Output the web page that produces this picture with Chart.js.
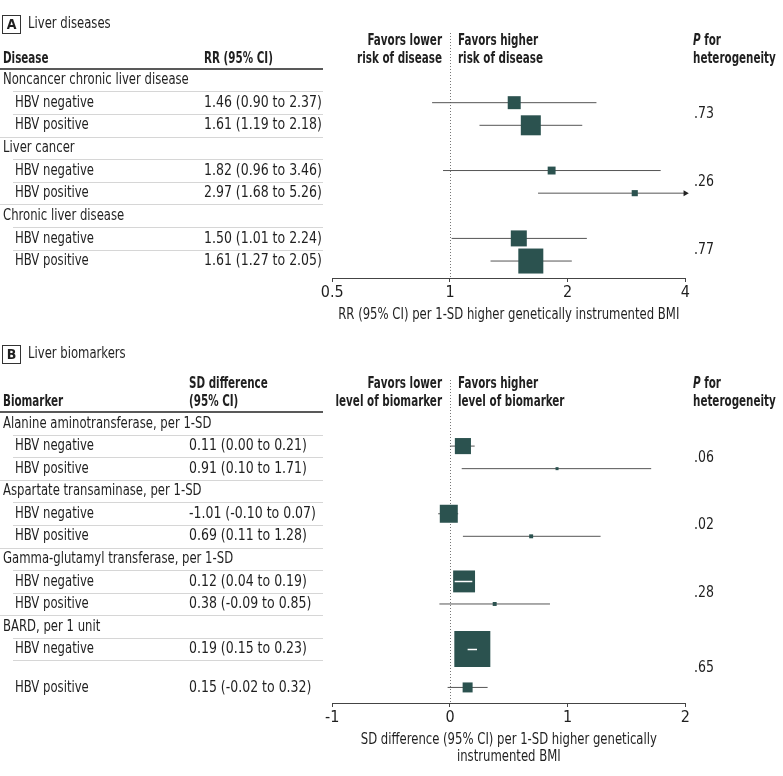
<!DOCTYPE html>
<html>
<head>
<meta charset="utf-8">
<script src="https://cdn.jsdelivr.net/npm/chart.js@4.4.1/dist/chart.umd.min.js"></script>
<style>
  html, body { margin: 0; padding: 0; background: #fff; }
  #wrap { position: relative; width: 783px; height: 776px; }
  canvas { position: absolute; left: 0; }
</style>
</head>
<body>
<div id="wrap">
  <canvas id="chart-a" width="783" height="330" style="top:0"></canvas>
  <canvas id="chart-b" width="783" height="446" style="top:330px"></canvas>
</div>
<script>
// Subgroups, shared by both panels
const subgroupNames = ["HBV negative", "HBV positive"];

// Panel A: liver diseases (RR per 1-SD higher BMI)
const diseaseNames = ["Noncancer chronic liver disease", "Liver cancer", "Chronic liver disease"];
const rrEst = [1.46, 1.61, 1.82, 2.97, 1.50, 1.61];
const rrLow = [0.90, 1.19, 0.96, 1.68, 1.01, 1.27];
const rrHigh = [2.37, 2.18, 3.46, 5.26, 2.24, 2.05];
const rrWeight = [27, 64, 10, 6, 41, 100];
const rrText = ["1.46 (0.90 to 2.37)", "1.61 (1.19 to 2.18)", "1.82 (0.96 to 3.46)",
  "2.97 (1.68 to 5.26)", "1.50 (1.01 to 2.24)", "1.61 (1.27 to 2.05)"];
const rrP = [".73", ".26", ".77"];
const rrTicks = [0.5, 1, 2, 4];

// Panel B: liver biomarkers (SD difference per 1-SD higher BMI)
const biomarkerNames = ["Alanine aminotransferase, per 1-SD", "Aspartate transaminase, per 1-SD",
  "Gamma-glutamyl transferase, per 1-SD", "BARD, per 1 unit"];
const sdEst = [0.11, 0.91, -0.01, 0.69, 0.12, 0.38, 0.19, 0.15];
const sdLow = [0.00, 0.10, -0.10, 0.11, 0.04, -0.09, 0.15, -0.02];
const sdHigh = [0.21, 1.71, 0.07, 1.28, 0.19, 0.85, 0.23, 0.32];
const sdWeight = [20, 0.7, 25, 1.2, 37, 1.2, 100, 7.7];
const sdText = ["0.11 (0.00 to 0.21)", "0.91 (0.10 to 1.71)", "-1.01 (-0.10 to 0.07)",
  "0.69 (0.11 to 1.28)", "0.12 (0.04 to 0.19)", "0.38 (-0.09 to 0.85)",
  "0.19 (0.15 to 0.23)", "0.15 (-0.02 to 0.32)"];
const sdP = [".06", ".02", ".28", ".65"];
const sdTicks = [-1, 0, 1, 2];

const FONT = '"DejaVu Sans Condensed", "DejaVu Sans", sans-serif';
const INK = "#1f1f1f";
const BOX = "#2b524f";
const CI = "#555555";

// the reference uses a condensed face, so squeeze text horizontally
function text(ctx, s, x, y, o = {}) {
  ctx.font = `${o.italic ? "italic " : ""}${o.bold ? "bold " : ""}${o.size || 16}px ${FONT}`;
  ctx.fillStyle = o.color || INK;
  ctx.textAlign = o.align || "left";
  ctx.textBaseline = "middle";
  const sq = o.sq || (o.bold ? 0.72 : o.num ? 0.87 : 0.81);
  const w = ctx.measureText(s).width * sq;
  ctx.fillText(s, x, y, w);
  return w;
}

function hline(ctx, x0, x1, y, color, w) {
  ctx.beginPath();
  ctx.strokeStyle = color;
  ctx.lineWidth = w;
  ctx.moveTo(x0, y);
  ctx.lineTo(x1, y);
  ctx.stroke();
}

const tablePlugin = {
  id: "table",
  beforeDatasetsDraw(chart, args, opts) {
    const ctx = chart.ctx;
    const x = chart.scales.x.getPixelForValue(opts.panel.ref);
    const a = chart.chartArea;
    ctx.save();
    ctx.strokeStyle = "#777";
    ctx.lineWidth = 1;
    ctx.setLineDash([1, 2]);
    ctx.beginPath();
    ctx.moveTo(Math.round(x) + 0.5, a.top);
    ctx.lineTo(Math.round(x) + 0.5, a.bottom);
    ctx.stroke();
    ctx.restore();
  },
  afterDatasetsDraw(chart, args, opts) {
    // CI fully hidden inside its box: draw it in white on top
    const p = opts.panel;
    const ctx = chart.ctx;
    const xs = chart.scales.x, ys = chart.scales.y;
    ctx.save();
    opts.rows.filter(r => r.sub).forEach(r => {
      const half = opts.boxSide(r.i) / 2;
      const cx = xs.getPixelForValue(p.est[r.i]);
      const lo = xs.getPixelForValue(p.low[r.i]);
      const hi = xs.getPixelForValue(p.high[r.i]);
      if (lo >= cx - half && hi <= cx + half) {
        const y = Math.round(ys.getPixelForValue(r.y)) + 0.5;
        hline(ctx, lo, hi, y, "#ffffff", 1.5);
      }
    });
    ctx.restore();
  },
  afterDraw(chart, args, opts) {
    const p = opts.panel;
    const rows = opts.rows;
    const ctx = chart.ctx;
    const ys = chart.scales.y;
    const area = chart.chartArea;
    ctx.save();

    // panel letter and title
    ctx.strokeStyle = "#333";
    ctx.lineWidth = 1;
    ctx.strokeRect(2.5, 15.5, 18, 18);
    text(ctx, p.letter, 11.5, 25, { bold: true, size: 14, align: "center", sq: 1 });
    text(ctx, p.title, 28, 24);

    // column headers, bottom-aligned on headY
    const hy = p.headY;
    const lines = (arr, x, o) => arr.forEach((s, j) => text(ctx, s, x, hy - 18 * (arr.length - 1 - j), o));
    lines(p.col1, 3, { bold: true });
    lines(p.col2, p.col2X, { bold: true });
    lines(p.favLow, 442, { bold: true, align: "right" });
    lines(p.favHigh, 458, { bold: true });
    const pw = text(ctx, "P", 693, hy - 18, { bold: true, italic: true });
    text(ctx, " for", 693 + pw, hy - 18, { bold: true });
    text(ctx, "heterogeneity", 693, hy, { bold: true });
    hline(ctx, 0, 323, hy + 10, "#222", 1.5);

    // table rows and separators
    rows.forEach((r, j) => {
      const y = ys.getPixelForValue(r.y);
      if (r.sub) {
        text(ctx, r.label, 15, y);
        text(ctx, p.text[r.i], p.col2X, y, { num: true });
      } else {
        text(ctx, r.label, 3, y);
      }
      if (j < rows.length - 1) {
        const sy = Math.round(ys.getPixelForValue(r.y + 0.5)) + 0.5;
        hline(ctx, rows[j + 1].sub ? 13 : 0, 323, sy, "#d6d6d6", 1);
      }
    });

    // P for heterogeneity, centred between the two subgroup rows
    opts.groupRows.forEach((g, gi) => {
      const y = ys.getPixelForValue((g[0].y + g[1].y) / 2);
      text(ctx, p.pText[gi], 694, y, { num: true });
    });

    // axis title
    const cx = (area.left + area.right) / 2;
    p.axisTitle.forEach((s, j) => text(ctx, s, cx, p.titleY + 17 * j, { align: "center" }));
    ctx.restore();
  }
};

function makeChart(p) {
  const rows = [];
  const groupRows = [];
  let pos = 0, k = 0;
  p.groups.forEach(g => {
    rows.push({ label: g, y: pos, sub: false });
    pos += 1;
    const gr = [];
    subgroupNames.forEach(s => {
      const r = { label: s, y: pos, sub: true, i: k };
      rows.push(r);
      gr.push(r);
      pos += 1 + (p.extraGap[k] || 0);
      k++;
    });
    groupRows.push(gr);
  });
  const subRows = rows.filter(r => r.sub);
  const boxSide = i => p.maxBox * Math.sqrt(p.weight[i] / 100);

  const boxes = {
    data: subRows.map(r => ({ x: p.est[r.i], y: r.y })),
    showLine: false,
    pointStyle: "rect",
    pointRadius: subRows.map(r => boxSide(r.i) / Math.SQRT2),
    pointBackgroundColor: BOX,
    pointBorderWidth: 0,
    clip: false,
    order: 0
  };
  const ciLines = subRows.map(r => {
    const clipped = p.high[r.i] > p.xMax;
    return {
      data: [{ x: p.low[r.i], y: r.y }, { x: Math.min(p.high[r.i], p.xMax), y: r.y }],
      showLine: true,
      borderColor: CI,
      borderWidth: 1,
      pointRadius: [0, clipped ? 3.5 : 0],
      pointStyle: "triangle",
      pointRotation: 90,
      pointBackgroundColor: "#222",
      pointBorderWidth: 0,
      clip: false,
      order: 1
    };
  });

  return new Chart(document.getElementById(p.canvas), {
    type: "scatter",
    data: { datasets: [boxes, ...ciLines] },
    plugins: [tablePlugin],
    options: {
      responsive: false,
      animation: false,
      events: [],
      layout: { padding: { left: 332.3, right: 97.7, top: p.top, bottom: 0 } },
      plugins: {
        legend: { display: false },
        tooltip: { enabled: false },
        table: { panel: p, rows: rows, groupRows: groupRows, boxSide: boxSide }
      },
      scales: {
        x: {
          type: p.xType,
          min: p.xMin,
          max: p.xMax,
          afterBuildTicks: s => { s.ticks = p.ticks.map(v => ({ value: v })); },
          afterFit: s => { s.height = p.axisHeight; },
          ticks: {
            callback: v => String(v),
            font: { family: FONT, size: 16 },
            color: INK,
            padding: 1,
            maxRotation: 0,
            autoSkip: false
          },
          grid: { drawOnChartArea: false, drawTicks: true, tickLength: 4, color: "#444" },
          border: { display: true, color: "#444", width: 1 },
          title: { display: false }
        },
        y: { type: "linear", display: false, reverse: true, min: p.yMin, max: p.yMax }
      }
    }
  });
}

makeChart({
  canvas: "chart-a", letter: "A", title: "Liver diseases",
  groups: diseaseNames, est: rrEst, low: rrLow, high: rrHigh, weight: rrWeight,
  text: rrText, pText: rrP, ticks: rrTicks,
  xType: "logarithmic", xMin: 0.5, xMax: 4, ref: 1,
  col1: ["Disease"], col2: ["RR (95% CI)"], col2X: 204,
  favLow: ["Favors lower", "risk of disease"], favHigh: ["Favors higher", "risk of disease"],
  axisTitle: ["RR (95% CI) per 1-SD higher genetically instrumented BMI"], titleY: 315,
  headY: 59, top: 33, axisHeight: 52,
  yMin: -2.08, yMax: 8.75, maxBox: 25, extraGap: {}
});

makeChart({
  canvas: "chart-b", letter: "B", title: "Liver biomarkers",
  groups: biomarkerNames, est: sdEst, low: sdLow, high: sdHigh, weight: sdWeight,
  text: sdText, pText: sdP, ticks: sdTicks,
  xType: "linear", xMin: -1, xMax: 2, ref: 0,
  col1: ["Biomarker"], col2: ["SD difference", "(95% CI)"], col2X: 189,
  favLow: ["Favors lower", "level of biomarker"], favHigh: ["Favors higher", "level of biomarker"],
  axisTitle: ["SD difference (95% CI) per 1-SD higher genetically", "instrumented BMI"], titleY: 410,
  headY: 72, top: 50, axisHeight: 73,
  yMin: -1.93, yMax: 12.39, maxBox: 36, extraGap: { 6: 0.7 }
});
</script>
</body>
</html>
